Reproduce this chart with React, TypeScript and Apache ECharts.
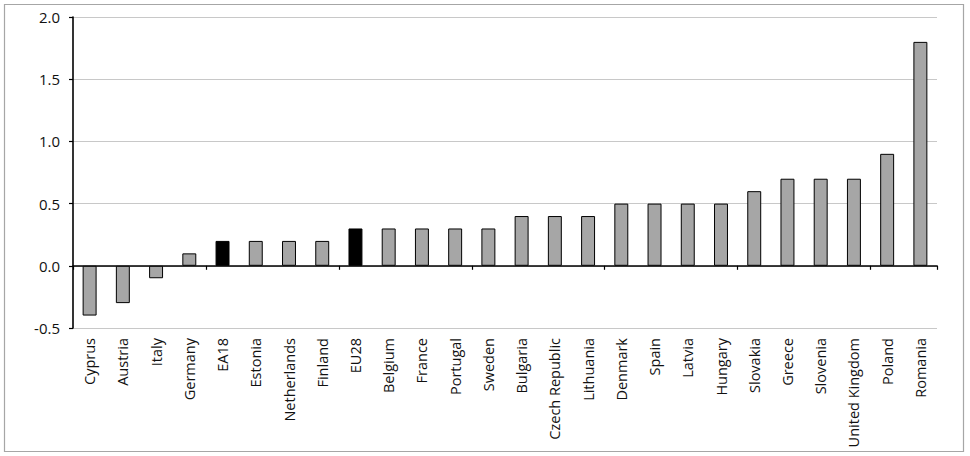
import React, { useEffect, useRef } from "react";
import * as echarts from "echarts";

const categories = [
  "Cyprus", "Austria", "Italy", "Germany", "EA18", "Estonia", "Netherlands", "Finland",
  "EU28", "Belgium", "France", "Portugal", "Sweden", "Bulgaria", "Czech Republic",
  "Lithuania", "Denmark", "Spain", "Latvia", "Hungary", "Slovakia", "Greece", "Slovenia",
  "United Kingdom", "Poland", "Romania",
];
const values = [
  -0.4, -0.3, -0.1, 0.1, 0.2, 0.2, 0.2, 0.2, 0.3, 0.3, 0.3, 0.3, 0.3, 0.4, 0.4, 0.4,
  0.5, 0.5, 0.5, 0.5, 0.6, 0.7, 0.7, 0.7, 0.9, 1.8,
];
const highlighted = ["EA18", "EU28"];

export default function App() {
  const ref = useRef<HTMLDivElement>(null);
  useEffect(() => {
    if (!ref.current) return;
    const chart = echarts.init(ref.current, null, { renderer: "svg" });
    const font = "'Open Sans', sans-serif";
    chart.setOption({
      animation: false,
      backgroundColor: "#ffffff",
      graphic: [
        {
          type: "rect",
          shape: { x: 4.5, y: 4.5, width: 959, height: 447 },
          style: { fill: "none", stroke: "#a6a6a6", lineWidth: 1.2 },
          silent: true,
        },
      ],
      grid: { left: 73, right: 33, top: 17, bottom: 128, outerBoundsMode: "none" },
      xAxis: [
        {
          type: "category",
          data: categories,
          boundaryGap: true,
          axisLine: { onZero: true, lineStyle: { color: "#000", width: 1.6 } },
          axisTick: { show: true, alignWithLabel: false, length: 4, lineStyle: { color: "#000", width: 1.2 } },
          axisLabel: { show: false },
          splitLine: { show: false },
        },
        {
          type: "category",
          data: categories,
          position: "bottom",
          axisLine: { show: false, onZero: false },
          axisTick: { show: false },
          axisLabel: {
            show: true,
            interval: 0,
            rotate: 90,
            margin: 10,
            color: "#111",
            fontFamily: font,
            fontSize: 14.5,
          },
          splitLine: { show: false },
        },
      ],
      yAxis: {
        type: "value",
        min: -0.5,
        max: 2.0,
        interval: 0.5,
        axisLine: { show: true, lineStyle: { color: "#000", width: 1.6 } },
        axisTick: { show: true, length: 4, lineStyle: { color: "#000", width: 1.2 } },
        axisLabel: {
          margin: 13,
          color: "#111",
          fontFamily: font,
          fontSize: 15,
          formatter: (v: number) => v.toFixed(1),
        },
        splitLine: { show: true, lineStyle: { color: "#c8c8c8", width: 1 } },
      },
      series: [
        {
          type: "bar",
          xAxisIndex: 0,
          barWidth: "42%",
          data: values.map((v, i) => ({
            value: v,
            itemStyle: {
              color: highlighted.includes(categories[i]) ? "#000000" : "#a6a6a6",
              borderColor: "#000",
              borderWidth: 1,
            },
          })),
        },
      ],
    });
    return () => chart.dispose();
  }, []);
  return (
    <div style={{ position: "fixed", left: 0, top: 0, width: 970, height: 456 }}>
      <div ref={ref} style={{ width: 970, height: 456 }} />
    </div>
  );
}
